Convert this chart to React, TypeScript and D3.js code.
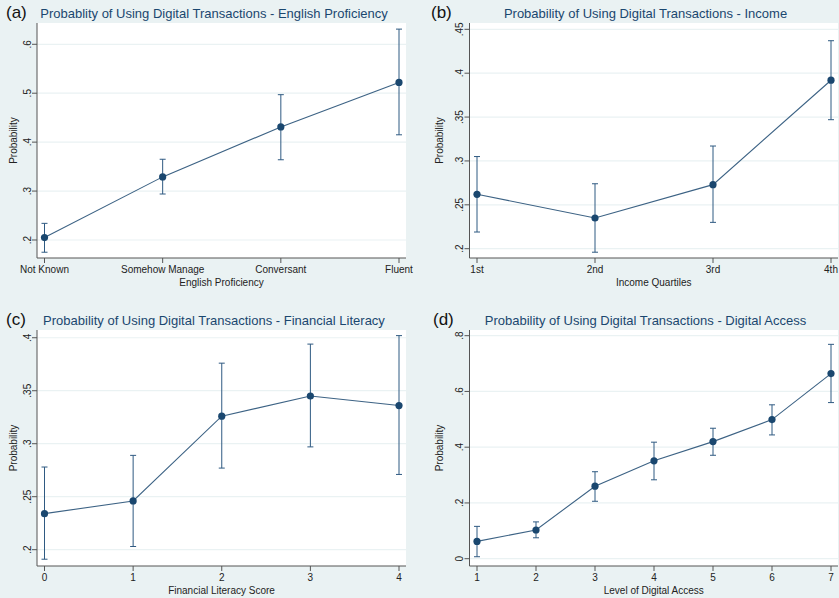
import * as d3 from "d3";

// English proficiency (a)
const englishLevels = ["Not Known", "Somehow Manage", "Conversant", "Fluent"];
const englishProb = [0.205, 0.329, 0.431, 0.522];
const englishLo = [0.175, 0.294, 0.364, 0.415];
const englishHi = [0.234, 0.365, 0.497, 0.631];
const englishTicks = [0.2, 0.3, 0.4, 0.5, 0.6];

// Income quartiles (b)
const incomeLevels = ["1st", "2nd", "3rd", "4th"];
const incomeProb = [0.262, 0.235, 0.273, 0.392];
const incomeLo = [0.219, 0.196, 0.23, 0.347];
const incomeHi = [0.305, 0.274, 0.317, 0.437];
const incomeTicks = [0.2, 0.25, 0.3, 0.35, 0.4, 0.45];

// Financial literacy (c)
const literacyScores = ["0", "1", "2", "3", "4"];
const literacyProb = [0.234, 0.246, 0.326, 0.345, 0.336];
const literacyLo = [0.191, 0.203, 0.277, 0.297, 0.271];
const literacyHi = [0.278, 0.289, 0.376, 0.394, 0.402];
const literacyTicks = [0.2, 0.25, 0.3, 0.35, 0.4];

// Digital access (d)
const accessLevels = ["1", "2", "3", "4", "5", "6", "7"];
const accessProb = [0.062, 0.103, 0.26, 0.351, 0.42, 0.499, 0.664];
const accessLo = [0.007, 0.075, 0.206, 0.283, 0.371, 0.444, 0.56];
const accessHi = [0.116, 0.132, 0.312, 0.418, 0.468, 0.552, 0.769];
const accessTicks = [0, 0.2, 0.4, 0.6, 0.8];

const W = 839;
const H = 598;
const BG = "#eaf2f3";
const NAVY = "#1a476f";
const FONT = "'Liberation Sans', Arial, Helvetica, sans-serif";

// stata style: drop the leading zero
const fmt = (v: number) => (v === 0 ? "0" : String(v).replace(/^0/, ""));

type PanelProps = {
  tag: string;
  title: string;
  titleX: number;
  xTitle: string;
  cats: string[];
  prob: number[];
  lo: number[];
  hi: number[];
  ticks: number[];
  yDomain: [number, number];
  box: { x0: number; x1: number; y0: number; y1: number };
  tagX: number;
  yTitleX: number;
};

const Panel = (p: PanelProps) => {
  const { box } = p;
  const x = d3
    .scalePoint<string>()
    .domain(p.cats)
    .range([box.x0 + 7.5, box.x1 - 7]);
  const y = d3.scaleLinear().domain(p.yDomain).range([box.y1, box.y0]);
  const line = d3
    .line<number>()
    .x((d, i) => x(p.cats[i]) as number)
    .y((d) => y(d));
  const top = box.y0 - 5;
  return (
    <g>
      <text x={p.tagX} y={top} fontSize={17} fontFamily={FONT} fill="#111">
        {p.tag}
      </text>
      <text
        x={p.titleX}
        y={top}
        fontSize={13}
        fontFamily={FONT}
        fill={NAVY}
        textAnchor="middle"
      >
        {p.title}
      </text>
      <rect
        x={box.x0}
        y={box.y0}
        width={box.x1 - box.x0}
        height={box.y1 - box.y0}
        fill="#fff"
      />
      {p.ticks.map((t) => (
        <line
          key={"g" + t}
          x1={box.x0}
          x2={box.x1}
          y1={y(t)}
          y2={y(t)}
          stroke={BG}
          strokeWidth={1.2}
        />
      ))}
      {/* axes */}
      <line x1={box.x0} x2={box.x0} y1={box.y0} y2={box.y1} stroke="#555" />
      <line x1={box.x0} x2={box.x1} y1={box.y1} y2={box.y1} stroke="#555" />
      {p.ticks.map((t) => (
        <g key={"t" + t}>
          <line
            x1={box.x0 - 5}
            x2={box.x0}
            y1={y(t)}
            y2={y(t)}
            stroke="#555"
          />
          <text
            x={box.x0 - 6}
            y={y(t)}
            transform={`rotate(-90, ${box.x0 - 6}, ${y(t)})`}
            textAnchor="middle"
            fontSize={10}
            fontFamily={FONT}
            fill="#222"
          >
            {fmt(t)}
          </text>
        </g>
      ))}
      {p.cats.map((c) => (
        <g key={"x" + c}>
          <line
            x1={x(c)}
            x2={x(c)}
            y1={box.y1}
            y2={box.y1 + 5}
            stroke="#555"
          />
          <text
            x={x(c)}
            y={box.y1 + 15}
            textAnchor="middle"
            fontSize={10}
            fontFamily={FONT}
            fill="#222"
          >
            {c}
          </text>
        </g>
      ))}
      <text
        x={(box.x0 + box.x1) / 2}
        y={box.y1 + 28}
        textAnchor="middle"
        fontSize={10}
        fontFamily={FONT}
        fill="#222"
      >
        {p.xTitle}
      </text>
      <text
        x={p.yTitleX}
        y={(box.y0 + box.y1) / 2}
        transform={`rotate(-90, ${p.yTitleX}, ${(box.y0 + box.y1) / 2})`}
        textAnchor="middle"
        fontSize={10}
        fontFamily={FONT}
        fill="#222"
      >
        Probability
      </text>
      {/* error bars */}
      {p.cats.map((c, i) => {
        const cx = x(c) as number;
        return (
          <g key={"e" + c} stroke="#2f5a82" strokeWidth={1}>
            <line x1={cx} x2={cx} y1={y(p.lo[i])} y2={y(p.hi[i])} />
            <line x1={cx - 3} x2={cx + 3} y1={y(p.lo[i])} y2={y(p.lo[i])} />
            <line x1={cx - 3} x2={cx + 3} y1={y(p.hi[i])} y2={y(p.hi[i])} />
          </g>
        );
      })}
      <path d={line(p.prob) || ""} fill="none" stroke={NAVY} strokeWidth={1.1} opacity={0.85} />
      {p.prob.map((v, i) => (
        <circle
          key={"p" + i}
          cx={x(p.cats[i])}
          cy={y(v)}
          r={3.6}
          fill={NAVY}
        />
      ))}
    </g>
  );
};

export default function App() {
  return (
    <svg
      width={W}
      height={H}
      style={{ position: "absolute", left: 0, top: 0 }}
    >
      <rect width={W} height={H} fill={BG} />
      <Panel
        tag="(a)"
        title="Probablity of Using Digital Transactions - English Proficiency"
        titleX={214}
        xTitle="English Proficiency"
        cats={englishLevels}
        prob={englishProb}
        lo={englishLo}
        hi={englishHi}
        ticks={englishTicks}
        yDomain={[0.1632, 0.6435]}
        box={{ x0: 37, x1: 406, y0: 23, y1: 258 }}
        tagX={6}
        yTitleX={17}
      />
      <Panel
        tag="(b)"
        title="Probability of Using Digital Transactions - Income"
        titleX={645.5}
        xTitle="Income Quartiles"
        cats={incomeLevels}
        prob={incomeProb}
        lo={incomeLo}
        hi={incomeHi}
        ticks={incomeTicks}
        yDomain={[0.1894, 0.4572]}
        box={{ x0: 469.5, x1: 838, y0: 23, y1: 258 }}
        tagX={431}
        yTitleX={442.5}
      />
      <Panel
        tag="(c)"
        title="Probability of Using Digital Transactions - Financial Literacy"
        titleX={214}
        xTitle="Financial Literacy Score"
        cats={literacyScores}
        prob={literacyProb}
        lo={literacyLo}
        hi={literacyHi}
        ticks={literacyTicks}
        yDomain={[0.1846, 0.4073]}
        box={{ x0: 37, x1: 406, y0: 330, y1: 566 }}
        tagX={6}
        yTitleX={17}
      />
      <Panel
        tag="(d)"
        title="Probability of Using Digital Transactions - Digital Access"
        titleX={645.5}
        xTitle="Level of Digital Access"
        cats={accessLevels}
        prob={accessProb}
        lo={accessLo}
        hi={accessHi}
        ticks={accessTicks}
        yDomain={[-0.0262, 0.8204]}
        box={{ x0: 469.5, x1: 838, y0: 330, y1: 566 }}
        tagX={433}
        yTitleX={442.5}
      />
    </svg>
  );
}
